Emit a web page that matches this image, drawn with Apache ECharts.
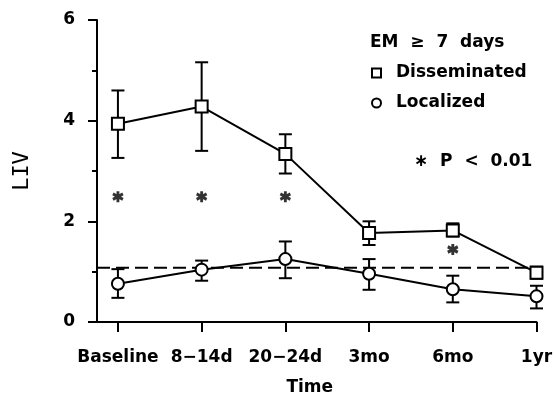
<!DOCTYPE html>
<html>
<head>
<meta charset="utf-8">
<script src="https://cdn.jsdelivr.net/npm/echarts@6/dist/echarts.min.js"></script>
<style>
  html, body { margin: 0; padding: 0; background: #fff; }
  #chart { width: 556px; height: 401px; }
</style>
</head>
<body>
<div id="chart"></div>
<script>
// 时间点
const categories = ['Baseline', '8\u221214d', '20\u221224d', '3mo', '6mo', '1yr'];
// Disseminated: 均值与误差范围
const dissMean = [3.94, 4.28, 3.34, 1.77, 1.82, 0.98];
const dissLow = [3.26, 3.40, 2.95, 1.53, 1.70, 0.86];
const dissHigh = [4.60, 5.16, 3.73, 2.00, 1.96, 1.10];
// Localized
const locMean = [0.76, 1.04, 1.25, 0.96, 0.65, 0.51];
const locLow = [0.48, 0.82, 0.87, 0.64, 0.39, 0.27];
const locHigh = [1.05, 1.22, 1.60, 1.25, 0.92, 0.72];
// P < 0.01 的星号
const sigIndex = [0, 1, 2, 4];
const sigValue = [2.49, 2.49, 2.49, 1.44];
// 虚线参考值
const refLevel = 1.08;
const refSpan = [-0.25, 5.23];
const yTicks = [0, 2, 4, 6];

const FONT = '"DejaVu Sans", sans-serif';
const chart = echarts.init(document.getElementById('chart'));

function errorBars(low, high) {
    return {
        type: 'custom',
        z: 1,
        silent: true,
        data: categories.map((c, i) => [i, low[i], high[i]]),
        encode: { x: 0, y: [1, 2] },
        renderItem: function(params, api) {
            let x = api.value(0);
            let top = api.coord([x, api.value(2)]);
            let bot = api.coord([x, api.value(1)]);
            let w = 6.5;
            let st = { stroke: '#000', lineWidth: 2 };
            return {
                type: 'group',
                children: [
                    { type: 'line', shape: { x1: top[0], y1: top[1], x2: bot[0], y2: bot[1] }, style: st },
                    { type: 'line', shape: { x1: top[0] - w, y1: top[1], x2: top[0] + w, y2: top[1] }, style: st },
                    { type: 'line', shape: { x1: bot[0] - w, y1: bot[1], x2: bot[0] + w, y2: bot[1] }, style: st }
                ]
            };
        }
    };
}

let option = {
    animation: false,
    backgroundColor: '#fff',
    grid: { left: 97, right: 19.5, top: 20, bottom: 78.5 },
    xAxis: {
        type: 'value',
        min: -0.25,
        max: 5,
        name: 'Time',
        nameLocation: 'middle',
        nameGap: 57,
        nameTextStyle: { fontFamily: FONT, fontWeight: 'bold', fontSize: 17, color: '#000', padding: [0, 14, 0, 0] },
        splitLine: { show: false },
        axisLine: { show: true, lineStyle: { color: '#000', width: 2 } },
        axisTick: { show: true, length: 10, lineStyle: { color: '#000', width: 2 }, customValues: categories.map((c, i) => i) },
        axisLabel: {
            customValues: categories.map((c, i) => i),
            formatter: v => categories[Math.round(v)],
            margin: 27,
            fontFamily: FONT, fontWeight: 'bold', fontSize: 17, color: '#000'
        }
    },
    yAxis: {
        type: 'value',
        min: 0,
        max: 6,
        interval: 2,
        name: 'LIV',
        nameLocation: 'middle',
        nameGap: 64,
        nameTextStyle: { fontFamily: '"DejaVu Sans Mono", monospace', fontSize: 22, color: '#000' },
        splitLine: { show: false },
        axisLine: { show: true, onZero: false, lineStyle: { color: '#000', width: 2 } },
        axisTick: { show: true, length: 9, lineStyle: { color: '#000', width: 2 } },
        minorTick: { show: true, splitNumber: 2, length: 5, lineStyle: { color: '#000', width: 2 } },
        axisLabel: {
            margin: 22,
            formatter: v => yTicks.indexOf(v) >= 0 ? String(v) : '',
            fontFamily: FONT, fontWeight: 'bold', fontSize: 17, color: '#000'
        }
    },
    legend: {
        orient: 'vertical',
        left: 371,
        top: 64,
        padding: 0,
        itemGap: 12,
        itemWidth: 9,
        itemHeight: 9,
        selectedMode: false,
        itemStyle: { color: '#fff', borderColor: '#000', borderWidth: 2 },
        textStyle: { fontFamily: FONT, fontWeight: 'bold', fontSize: 17, color: '#000', lineHeight: 18, padding: [0, 0, 0, 10] },
        data: [
            { name: 'Disseminated', icon: 'rect' },
            { name: 'Localized', icon: 'circle' }
        ]
    },
    graphic: [
        {
            type: 'text', x: 370, y: 43,
            style: { text: 'EM  \u2265  7  days', font: 'bold 17px ' + FONT, fill: '#000', verticalAlign: 'middle' }
        },
        {
            type: 'text', x: 414, y: 162,
            style: { text: '\u2217  P  <  0.01', font: 'bold 17px ' + FONT, fill: '#000', verticalAlign: 'middle' }
        }
    ],
    series: [
        {
            name: 'ref',
            type: 'line',
            clip: false,
            z: 1,
            symbol: 'none',
            silent: true,
            data: refSpan.map(x => [x, refLevel]),
            lineStyle: { color: '#000', width: 2, type: [13, 6] }
        },
        errorBars(dissLow, dissHigh),
        errorBars(locLow, locHigh),
        {
            name: 'Disseminated',
            type: 'line',
            z: 3,
            data: dissMean.map((v, i) => [i, v]),
            symbol: 'rect',
            symbolSize: 12,
            lineStyle: { color: '#000', width: 2 },
            itemStyle: { color: '#fff', borderColor: '#000', borderWidth: 2 }
        },
        {
            name: 'Localized',
            type: 'line',
            z: 3,
            data: locMean.map((v, i) => [i, v]),
            symbol: 'circle',
            symbolSize: 12,
            lineStyle: { color: '#000', width: 2 },
            itemStyle: { color: '#fff', borderColor: '#000', borderWidth: 2 }
        },
        {
            name: 'P < 0.01',
            type: 'scatter',
            z: 3,
            data: sigIndex.map((x, i) => [x, sigValue[i]]),
            symbol: 'path://M0,-5L0,5M-4.33,-2.5L4.33,2.5M-4.33,2.5L4.33,-2.5',
            symbolSize: [10, 11],
            itemStyle: { color: 'none', borderColor: '#000', borderWidth: 3 }
        }
    ]
};

chart.setOption(option);
</script>
</body>
</html>
